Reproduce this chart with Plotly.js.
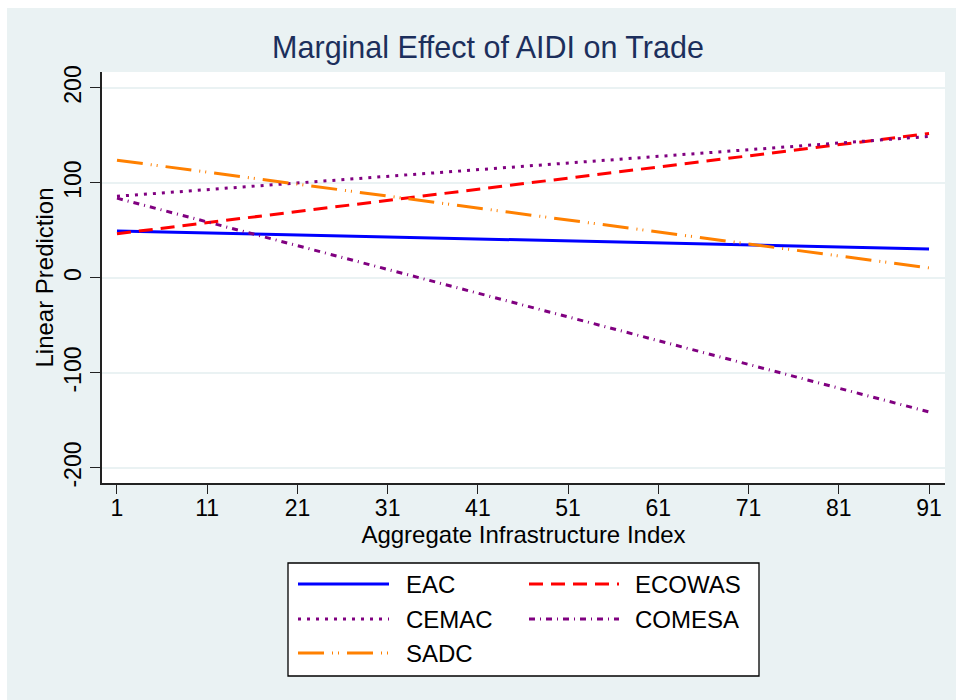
<!DOCTYPE html>
<html>
<head>
<meta charset="utf-8">
<script src="https://cdn.plot.ly/plotly-3.0.1.min.js"></script>
<style>
  html, body { margin: 0; padding: 0; background: #ffffff; }
  #chart { position: absolute; left: 7px; top: 8px; width: 949px; height: 692px; }
</style>
</head>
<body>
<div id="chart"></div>
<script>
// ---- Data ----
const xValues = [1, 11, 21, 31, 41, 51, 61, 71, 81, 91];
const eacValues    = [49.5, 47.4, 45.3, 43.2, 41.1, 39.0, 36.9, 34.8, 32.7, 30.6];
const ecowasValues = [46.5, 58.2, 69.9, 81.7, 93.4, 105.1, 116.8, 128.5, 140.3, 152.0];
const cemacValues  = [86, 93, 100, 107, 114, 121, 128, 135, 142, 149];
const comesaValues = [84, 59, 34, 9, -16, -41, -66, -91, -116, -141];
const sadcValues   = [124, 111.4, 98.8, 86.2, 73.6, 61.0, 48.4, 35.8, 23.2, 10.6];
const seriesNames  = ["EAC", "ECOWAS", "CEMAC", "COMESA", "SADC"];
const xTickVals = [1, 11, 21, 31, 41, 51, 61, 71, 81, 91];
const yTickVals = [-200, -100, 0, 100, 200];
const yTickText = ["-200", "-100", "0", "100", "200"];

// ---- Styles ----
const colors = ["#0000ff", "#ff0000", "#800080", "#800080", "#ff8000"];
const dashes = ["solid", "14px,8px", "3px,6px", "6px,5px,1px,5px", "26px,8px,1px,5px,1px,8px"];
const allValues = [eacValues, ecowasValues, cemacValues, comesaValues, sadcValues];
const FONT = "Liberation Sans, Arial, sans-serif";

const traces = allValues.map((vals, i) => ({
  type: "scatter",
  mode: "lines",
  name: seriesNames[i],
  x: xValues,
  y: vals,
  line: { color: colors[i], width: 3, dash: dashes[i] },
  showlegend: false,
  hoverinfo: "x+y+name"
}));

// ---- Custom legend (Stata-style long samples) ----
const plotL = 95, plotW = 843, plotB = 475, plotH = 411; // div px
const px = v => (v - plotL) / plotW;
const py = v => (plotB - v) / plotH;
const legendCols = [{ x0: 291, x1: 382, tx: 397 }, { x0: 522, x1: 612, tx: 626 }];
const legendRows = [576, 611, 645];
const shapes = [{
  type: "rect", xref: "paper", yref: "paper",
  x0: px(281), x1: px(752), y0: py(668), y1: py(555),
  fillcolor: "#ffffff", line: { color: "#000000", width: 1.3 }, layer: "below"
}];
const annotations = [];
seriesNames.forEach((name, i) => {
  const c = legendCols[i % 2];
  const r = legendRows[Math.floor(i / 2)];
  shapes.push({
    type: "line", xref: "paper", yref: "paper",
    x0: px(c.x0), x1: px(c.x1), y0: py(r), y1: py(r),
    line: { color: colors[i], width: 3, dash: dashes[i] }
  });
  annotations.push({
    xref: "paper", yref: "paper", x: px(c.tx), y: py(r),
    xanchor: "left", yanchor: "middle", showarrow: false,
    text: name, font: { family: FONT, size: 24, color: "#000000" }
  });
});

const layout = {
  width: 949, height: 692,
  paper_bgcolor: "#eaf2f3",
  plot_bgcolor: "#ffffff",
  margin: { l: plotL, r: 949 - plotL - plotW, t: plotB - plotH, b: 692 - plotB, pad: 0 },
  font: { family: FONT, color: "#000000" },
  title: {
    text: "Marginal Effect of AIDI on Trade",
    font: { family: FONT, size: 30.5, color: "#1c2f5c" },
    xref: "container", x: 481 / 949, xanchor: "center",
    yref: "container", y: 1 - 39 / 692, yanchor: "middle"
  },
  xaxis: {
    range: [-0.66, 92.77],
    tickmode: "array", tickvals: xTickVals,
    ticks: "outside", ticklen: 9, tickwidth: 1.3, tickcolor: "#222222",
    ticklabelstandoff: -5,
    showgrid: false, zeroline: false,
    showline: true, linecolor: "#222222", linewidth: 1.5,
    tickfont: { family: FONT, size: 23, color: "#000000" },
    title: { text: "Aggregate Infrastructure Index", font: { family: FONT, size: 24, color: "#000000" }, standoff: 2 }
  },
  yaxis: {
    range: [-215.8, 216.8],
    tickmode: "array", tickvals: yTickVals, ticktext: yTickText,
    tickangle: -90,
    ticks: "outside", ticklen: 10, tickwidth: 1.3, tickcolor: "#222222",
    showgrid: true, gridcolor: "#eaf2f3", gridwidth: 2,
    zeroline: false,
    showline: true, linecolor: "#222222", linewidth: 1.5,
    tickfont: { family: FONT, size: 23, color: "#000000" },
    title: { text: "Linear Prediction", font: { family: FONT, size: 24, color: "#000000" }, standoff: 0 }
  },
  shapes: shapes,
  annotations: annotations,
  showlegend: false
};

Plotly.newPlot("chart", traces, layout, { displayModeBar: false, staticPlot: false });
</script>
</body>
</html>
